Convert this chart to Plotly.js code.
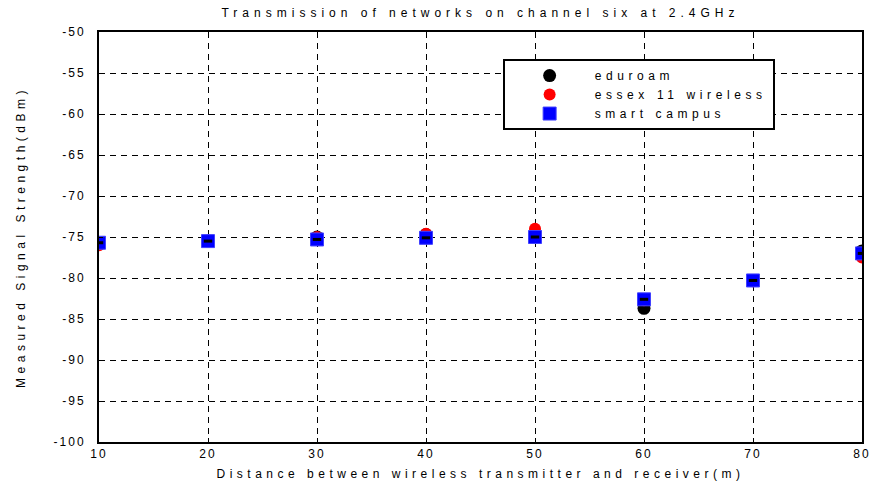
<!DOCTYPE html>
<html>
<head>
<meta charset="utf-8">
<script src="https://cdn.plot.ly/plotly-3.0.1.min.js"></script>
<style>
html, body { margin: 0; padding: 0; background: #fff; }
#chart { width: 874px; height: 486px; }
.gtitle { letter-spacing: 5px; }
.xtitle, .ytitle { letter-spacing: 4.5px; }
.legendtext { letter-spacing: 4.6px; }
.xtick text, .ytick text { letter-spacing: 2px; }
</style>
</head>
<body>
<div id="chart"></div>
<script>
// Data
var distance = [10, 20, 30, 40, 50, 60, 70, 80];
var eduroam = [-75.8, -75.5, -75.0, -74.7, -74.5, -83.7, -80.3, -76.7];
var essex11Wireless = [-76.0, -75.5, -75.0, -74.6, -74.0, -82.7, -80.4, -77.5];
var smartCampus = [-75.7, -75.5, -75.3, -75.1, -75.0, -82.6, -80.3, -77.0];
var seriesNames = ['eduroam', 'essex 11 wireless', 'smart campus'];
var xTicks = [10, 20, 30, 40, 50, 60, 70, 80];
var yTicks = [-100, -95, -90, -85, -80, -75, -70, -65, -60, -55, -50];

var fontFam = '"Liberation Sans", Arial, sans-serif';

var traces = [
  { x: distance, y: eduroam, name: seriesNames[0], mode: 'markers', type: 'scatter',
    marker: { symbol: 'circle', color: '#000000', size: 13 } },
  { x: distance, y: essex11Wireless, name: seriesNames[1], mode: 'markers', type: 'scatter',
    marker: { symbol: 'circle', color: '#ff0000', size: 12 } },
  { x: distance, y: smartCampus, name: seriesNames[2], mode: 'markers', type: 'scatter',
    marker: { symbol: 'square', color: '#0000ff', size: 13, line: { color: '#4040ff', width: 1 } } },
  { x: distance, y: smartCampus, name: seriesNames[2], mode: 'markers', type: 'scatter', showlegend: false,
    hoverinfo: 'skip',
    marker: { symbol: 'line-ew', color: '#000000', size: 6, line: { color: '#000000', width: 3 } } }
];

var axisCommon = {
  showline: true, linecolor: '#000', linewidth: 2, mirror: 'ticks',
  ticks: 'inside', ticklen: 4, tickcolor: '#000', tickwidth: 1,
  showgrid: true, gridcolor: '#000', gridwidth: 1, griddash: '6px,5px',
  zeroline: false,
  tickfont: { family: fontFam, size: 12, color: '#000' }
};

var layout = {
  width: 874, height: 486,
  margin: { l: 99, r: 12, t: 32, b: 44 },
  paper_bgcolor: '#ffffff', plot_bgcolor: '#ffffff',
  font: { family: fontFam, size: 12, color: '#000' },
  title: { text: 'Transmission of networks on channel six at 2.4GHz',
           x: 0.5, xref: 'paper', y: 1 - 13 / 486, yref: 'container', yanchor: 'middle',
           font: { family: fontFam, size: 12, color: '#000' } },
  xaxis: Object.assign({}, axisCommon, {
    range: [10, 80], tickvals: xTicks, ticktext: xTicks.map(String),
    title: { text: 'Distance between wireless transmitter and receiver(m)', standoff: 9,
             font: { family: fontFam, size: 12, color: '#000' } }
  }),
  yaxis: Object.assign({}, axisCommon, {
    range: [-100, -50], tickvals: yTicks, ticktext: yTicks.map(String),
    ticklabelstandoff: 9,
    title: { text: 'Measured Signal Strength(dBm)', standoff: 25,
             font: { family: fontFam, size: 12, color: '#000' } }
  }),
  showlegend: true,
  legend: {
    x: 0.529, y: 0.934, xanchor: 'left', yanchor: 'top',
    bgcolor: '#ffffff', bordercolor: '#000', borderwidth: 2,
    itemwidth: 80, tracegroupgap: 0,
    font: { family: fontFam, size: 12, color: '#000' }
  }
};

Plotly.newPlot('chart', traces, layout, { displayModeBar: false, staticPlot: true });
</script>
</body>
</html>
